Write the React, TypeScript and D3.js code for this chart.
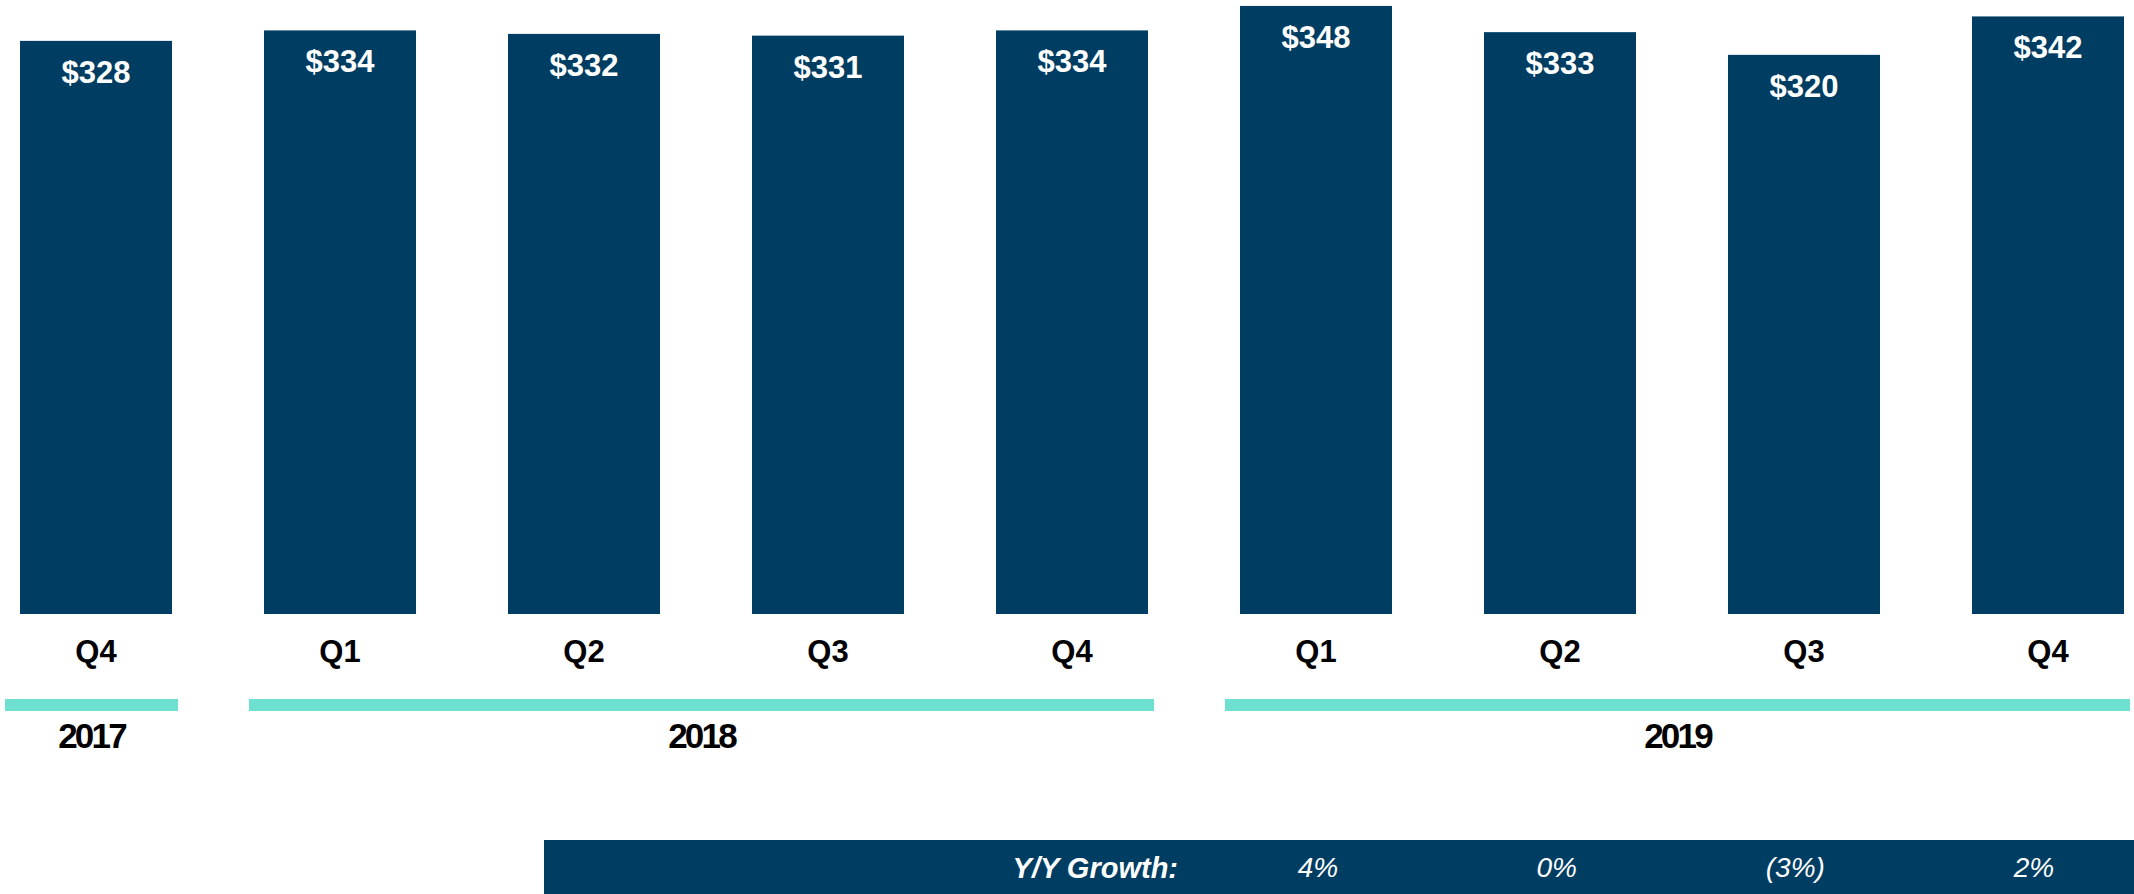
import React from "react";
import * as d3 from "d3";

const quarters = ["Q4", "Q1", "Q2", "Q3", "Q4", "Q1", "Q2", "Q3", "Q4"];
const years = ["2017", "2018", "2018", "2018", "2018", "2019", "2019", "2019", "2019"];
const values = [328, 334, 332, 331, 334, 348, 333, 320, 342];
const yearGroups = ["2017", "2018", "2019"];
const growthLabels = ["4%", "0%", "(3%)", "2%"];
const growthTitle = "Y/Y Growth:";

const W = 2134;
const H = 894;
const BAR = "#003D62";
const TEAL = "#6EE0D2";

export default function App() {
  const idx = values.map((_, i) => i);
  const x = d3.scaleBand<number>().domain(idx).range([20, 2124]).paddingInner(0.377).paddingOuter(0);
  const y = d3.scaleLinear().domain([0, 351.4]).range([614, 0]);
  const bw = x.bandwidth();
  const gx = d3.scalePoint<number>().domain(growthLabels.map((_, i) => i)).range([1318, 2034]);

  return (
    <svg width={W} height={H} style={{ position: "absolute", left: 0, top: 0 }}
      fontFamily="'Liberation Sans', Arial, sans-serif">
      {values.map((v, i) => (
        <g key={i}>
          <rect x={x(i)} y={y(v)} width={bw} height={y(0) - y(v)} fill={BAR} />
          <text x={(x(i) as number) + bw / 2} y={y(v) + 42} textAnchor="middle" fill="#fff"
            fontWeight="bold" fontSize={31}>${v}</text>
          <text x={(x(i) as number) + bw / 2} y={662} textAnchor="middle" fill="#000"
            fontWeight="bold" fontSize={31}>{quarters[i]}</text>
        </g>
      ))}
      {yearGroups.map((yr) => {
        const ids = idx.filter((i) => years[i] === yr);
        const l = (x(ids[0]) as number) - 15;
        const r = (x(ids[ids.length - 1]) as number) + bw + 6;
        return (
          <g key={yr}>
            <rect x={l} y={699} width={r - l} height={12} fill={TEAL} />
            <text x={(l + r) / 2} y={748} textAnchor="middle" fill="#000" fontWeight="bold"
              fontSize={35} letterSpacing={-2.8}>{yr}</text>
          </g>
        );
      })}
      <rect x={544} y={840} width={W - 544} height={H - 840} fill={BAR} />
      <text x={1178} y={878} textAnchor="end" fill="#fff" fontStyle="italic" fontWeight="bold"
        fontSize={29}>{growthTitle}</text>
      {growthLabels.map((g, i) => (
        <text key={i} x={gx(i)} y={877} textAnchor="middle" fill="#fff" fontStyle="italic"
          fontSize={28}>{g}</text>
      ))}
    </svg>
  );
}
